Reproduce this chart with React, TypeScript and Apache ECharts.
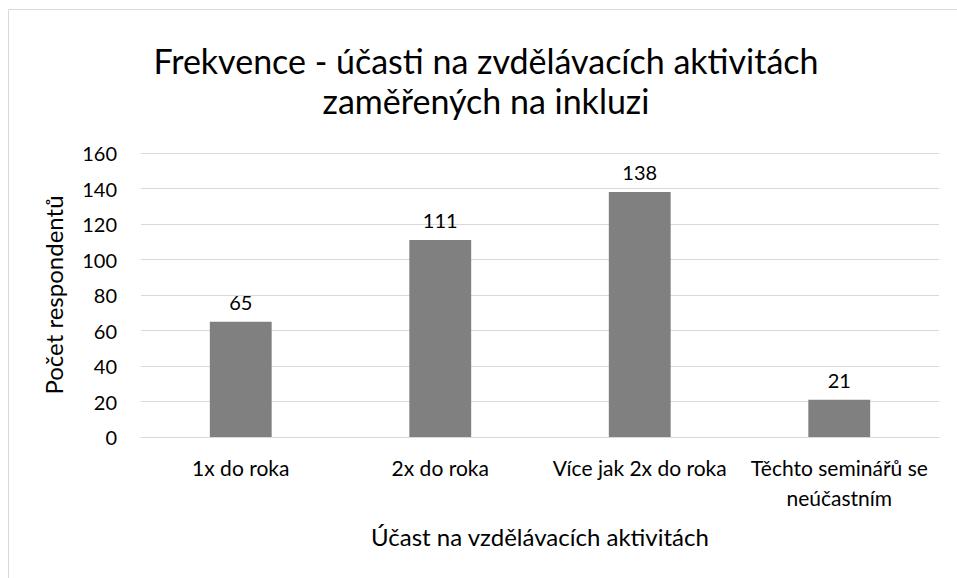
import React, { useEffect, useRef } from "react";
import * as echarts from "echarts";

const categories = ["1x do roka", "2x do roka", "Více jak 2x do roka", "Těchto seminářů se\nneúčastním"];
const values = [65, 111, 138, 21];
const titleText = "Frekvence - účasti na zvdělávacích aktivitách\nzaměřených na inkluzi";
const yName = "Počet respondentů";
const xName = "Účast na vzdělávacích aktivitách";

const FONT = "Lato, 'Open Sans', sans-serif";

export default function App() {
  const ref = useRef<HTMLDivElement>(null);
  useEffect(() => {
    if (!ref.current) return;
    const chart = echarts.init(ref.current, undefined, { renderer: "svg" });
    chart.setOption({
      animation: false,
      backgroundColor: "#ffffff",
      textStyle: { fontFamily: FONT },
      graphic: [
        {
          type: "rect",
          shape: { x: 8.5, y: 9.5, width: 960, height: 580 },
          style: { fill: "none", stroke: "#d9d9d9", lineWidth: 1 },
          silent: true,
        },
      ],
      title: {
        text: titleText,
        left: 481,
        top: 35,
        textAlign: "center",
        textStyle: { fontFamily: FONT, fontSize: 34, fontWeight: "normal", color: "#000", lineHeight: 40 },
      },
      grid: { left: 141, right: 18, top: 153, bottom: 141, containLabel: false },
      xAxis: {
        type: "category",
        data: categories,
        name: xName,
        nameLocation: "middle",
        nameGap: 87,
        nameTextStyle: { fontFamily: FONT, fontSize: 24, color: "#000" },
        axisLine: { lineStyle: { color: "#d9d9d9", width: 1 } },
        axisTick: { show: false },
        axisLabel: { interval: 0, fontFamily: FONT, fontSize: 21, color: "#000", margin: 15, lineHeight: 30 },
      },
      yAxis: {
        type: "value",
        min: 0,
        max: 160,
        interval: 20,
        name: yName,
        nameLocation: "middle",
        nameRotate: 90,
        nameGap: 76,
        nameTextStyle: { fontFamily: FONT, fontSize: 24, color: "#000" },
        axisLine: { show: false },
        axisTick: { show: false },
        axisLabel: { fontFamily: FONT, fontSize: 20, color: "#000", margin: 24 },
        splitLine: { lineStyle: { color: "#d9d9d9", width: 1 } },
      },
      series: [
        {
          type: "bar",
          data: values,
          barWidth: "31%",
          itemStyle: { color: "#808080" },
          label: { show: true, position: "top", distance: 10, fontFamily: FONT, fontSize: 20, color: "#000" },
        },
      ],
    });
    return () => chart.dispose();
  }, []);
  return <div ref={ref} style={{ position: "fixed", left: 0, top: 0, width: 957, height: 578 }} />;
}
